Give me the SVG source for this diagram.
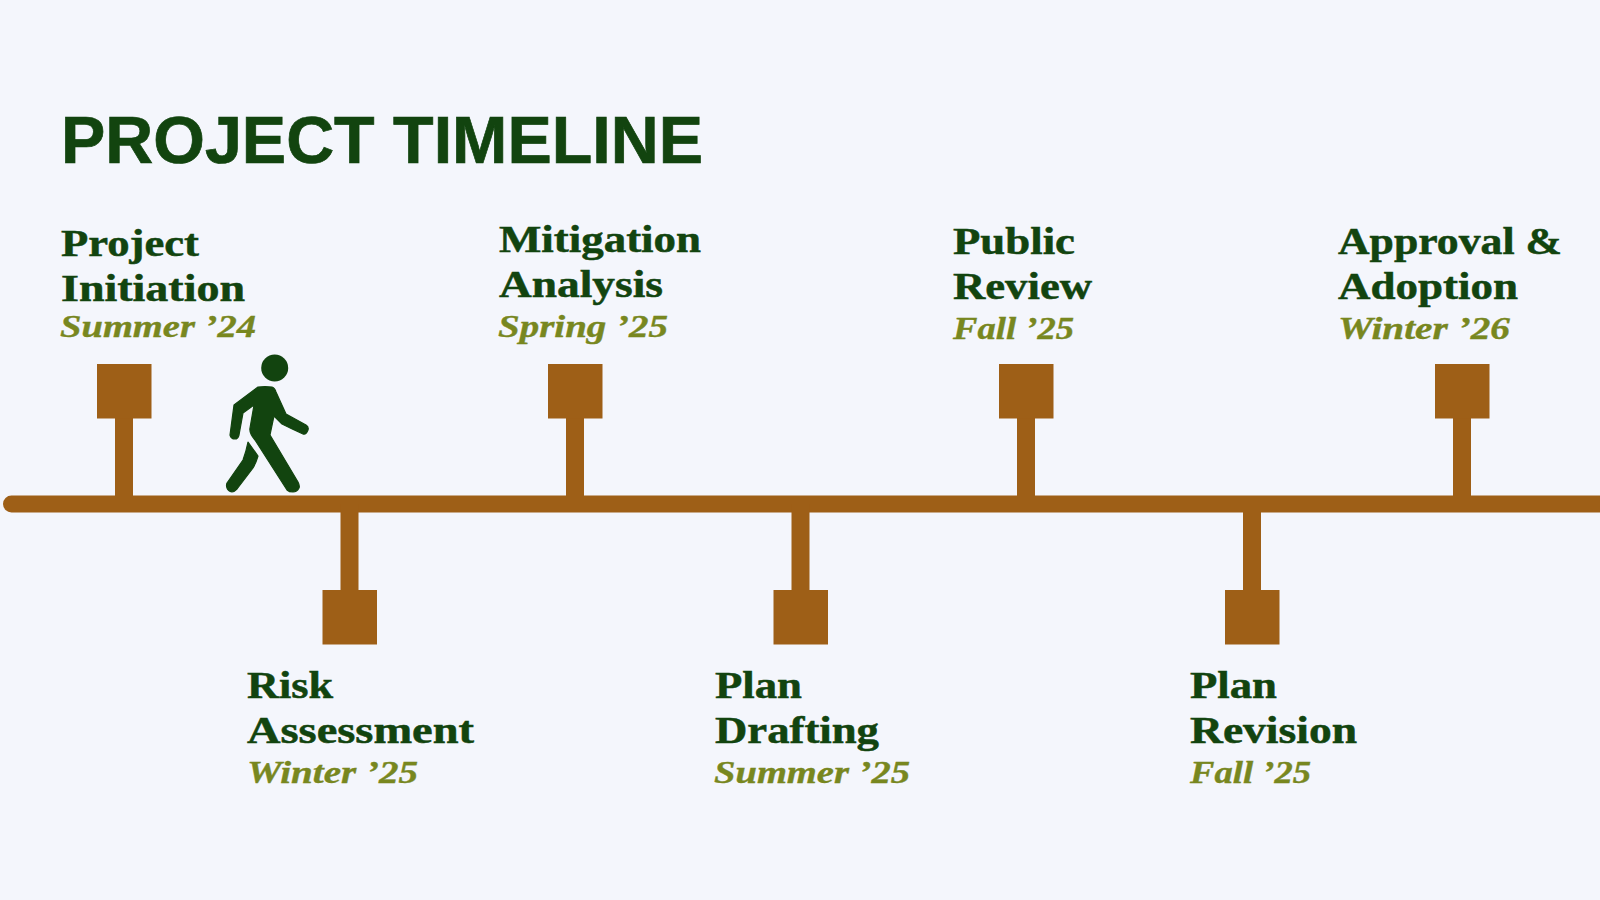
<svg xmlns="http://www.w3.org/2000/svg" width="1600" height="900" viewBox="0 0 1600 900">
<style>
.title{font:bold 66px "Liberation Sans",Arial,sans-serif;fill:#12440f;stroke:#12440f;stroke-width:.7}
.name{font:bold 38.500px "Liberation Serif","Times New Roman",serif;fill:#12440f;stroke:#12440f;stroke-width:.5}
.date{font:italic bold 32.500px "Liberation Serif","Times New Roman",serif;fill:#78871f;stroke:#78871f;stroke-width:.4}
.box{fill:#9e5f17}
.stem{stroke:#9e5f17;stroke-width:18;fill:none}
</style>
<rect width="1600" height="900" fill="#f4f6fc"/>
<text id="title" class="title" x="61" y="163" textLength="642" lengthAdjust="spacingAndGlyphs">PROJECT TIMELINE</text>
<g id="connectors">
<path d="M11.500 504H1600" stroke="#9e5f17" stroke-width="17" stroke-linecap="round" fill="none"/>
<path class="stem" d="M124 418V504M349.500 504V590M575 418V504M800.500 504V590M1026 418V504M1252 504V590M1462 418V504"/>
</g>
<g id="n1"><rect class="box" x="97" y="364" width="54.500" height="54.500"/>
<text class="name" x="61" y="256" textLength="138" lengthAdjust="spacingAndGlyphs">Project</text><text class="name" x="61" y="301" textLength="184" lengthAdjust="spacingAndGlyphs">Initiation</text><text class="date" x="60" y="337" textLength="196" lengthAdjust="spacingAndGlyphs">Summer ’24</text></g>
<g id="n2"><rect class="box" x="322.500" y="590" width="54.500" height="54.500"/>
<text class="name" x="247" y="698" textLength="86" lengthAdjust="spacingAndGlyphs">Risk</text><text class="name" x="247" y="743" textLength="227" lengthAdjust="spacingAndGlyphs">Assessment</text><text class="date" x="247" y="783" textLength="171" lengthAdjust="spacingAndGlyphs">Winter ’25</text></g>
<g id="n3"><rect class="box" x="548" y="364" width="54.500" height="54.500"/>
<text class="name" x="499" y="252" textLength="202" lengthAdjust="spacingAndGlyphs">Mitigation</text><text class="name" x="499" y="297" textLength="164" lengthAdjust="spacingAndGlyphs">Analysis</text><text class="date" x="498" y="337" textLength="170" lengthAdjust="spacingAndGlyphs">Spring ’25</text></g>
<g id="n4"><rect class="box" x="773.500" y="590" width="54.500" height="54.500"/>
<text class="name" x="715" y="698" textLength="87" lengthAdjust="spacingAndGlyphs">Plan</text><text class="name" x="715" y="743" textLength="164" lengthAdjust="spacingAndGlyphs">Drafting</text><text class="date" x="714" y="783" textLength="196" lengthAdjust="spacingAndGlyphs">Summer ’25</text></g>
<g id="n5"><rect class="box" x="999" y="364" width="54.500" height="54.500"/>
<text class="name" x="953" y="254" textLength="122" lengthAdjust="spacingAndGlyphs">Public</text><text class="name" x="953" y="299" textLength="139" lengthAdjust="spacingAndGlyphs">Review</text><text class="date" x="953" y="339" textLength="121" lengthAdjust="spacingAndGlyphs">Fall ’25</text></g>
<g id="n6"><rect class="box" x="1225" y="590" width="54.500" height="54.500"/>
<text class="name" x="1190" y="698" textLength="87" lengthAdjust="spacingAndGlyphs">Plan</text><text class="name" x="1190" y="743" textLength="167" lengthAdjust="spacingAndGlyphs">Revision</text><text class="date" x="1190" y="783" textLength="121" lengthAdjust="spacingAndGlyphs">Fall ’25</text></g>
<g id="n7"><rect class="box" x="1435" y="364" width="54.500" height="54.500"/>
<text class="name" x="1338" y="254" textLength="224" lengthAdjust="spacingAndGlyphs">Approval &amp;</text><text class="name" x="1338" y="299" textLength="180" lengthAdjust="spacingAndGlyphs">Adoption</text><text class="date" x="1338" y="339" textLength="172" lengthAdjust="spacingAndGlyphs">Winter ’26</text></g>
<g id="walker" fill="#12440f">
<circle cx="274.700" cy="368" r="13.500"/>
<path stroke="#12440f" stroke-width="1.200" stroke-linejoin="round" d="M258 387Q265 386 272 387Q275 388 276 392L286 414L306 425Q309 427 308 430Q306 435 303 434Q292 429 282 424L274 416L270 435L298 482Q300 486 299 488Q297 492 293 492Q289 492 287 490L255 440Q249 433 250 428L254 405L243 413L239 435Q238 439 235 439Q231 439 230 435L234 405Z"/>
<path stroke="#12440f" stroke-width="1.200" stroke-linejoin="round" d="M248 442L258 456Q256 463 253 468L237 489Q234 492 232 492Q228 491 227 488Q226 485 227 483L243 460Q246 452 248 442Z"/>
</g>
</svg>
